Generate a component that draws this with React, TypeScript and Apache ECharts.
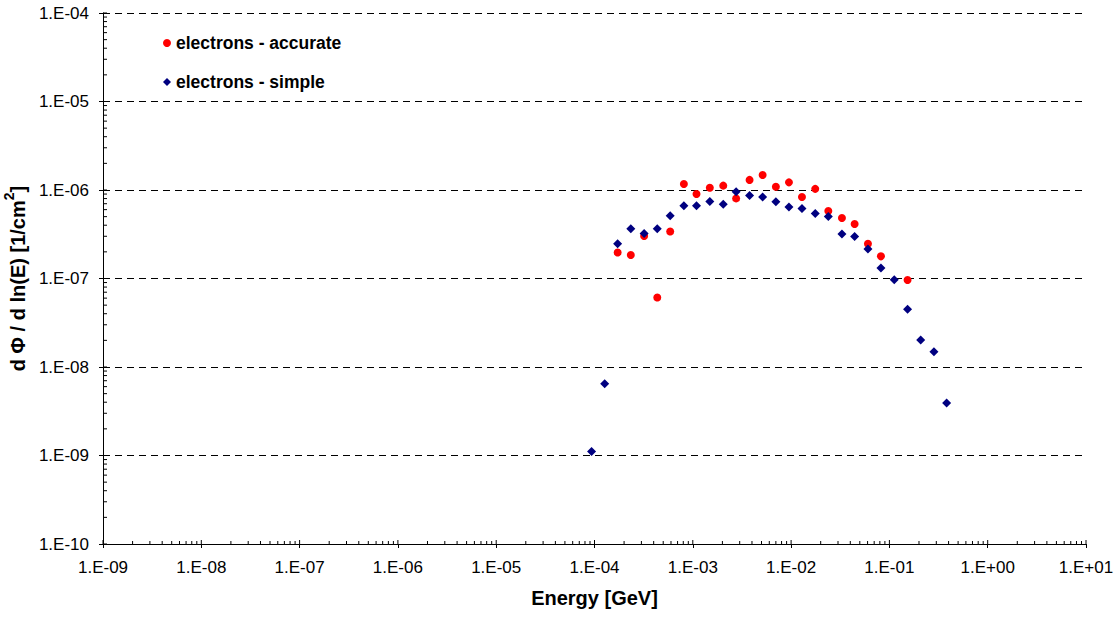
import React, { useEffect, useRef } from "react";
import * as echarts from "echarts";

// Energies [GeV] and fluxes
const simpleEnergy = [
  9.33e-5, 1.27e-4, 1.72e-4, 2.34e-4, 3.2e-4, 4.35e-4, 5.89e-4, 8.11e-4, 1.09e-3, 1.49e-3,
  2.04e-3, 2.76e-3, 3.78e-3, 5.13e-3, 7.0e-3, 9.51e-3, 1.29e-2, 1.76e-2, 2.39e-2, 3.29e-2,
  4.43e-2, 6.05e-2, 8.2e-2, 0.112, 0.153, 0.208, 0.284, 0.382,
];
const simpleFlux = [
  1.11e-9, 6.48e-9, 2.47e-7, 3.65e-7, 3.23e-7, 3.65e-7, 5.13e-7, 6.65e-7, 6.65e-7, 7.43e-7,
  6.88e-7, 9.57e-7, 8.69e-7, 8.33e-7, 7.38e-7, 6.43e-7, 6.19e-7, 5.44e-7, 5.03e-7, 3.18e-7,
  2.99e-7, 2.15e-7, 1.31e-7, 9.69e-8, 4.48e-8, 2.02e-8, 1.49e-8, 3.92e-9,
];
const accurateEnergy = [
  1.72e-4, 2.34e-4, 3.2e-4, 4.35e-4, 5.89e-4, 8.11e-4, 1.09e-3, 1.49e-3, 2.04e-3, 2.76e-3,
  3.78e-3, 5.13e-3, 7.0e-3, 9.51e-3, 1.29e-2, 1.76e-2, 2.39e-2, 3.29e-2, 4.43e-2, 6.05e-2,
  8.2e-2, 0.153,
];
const accurateFlux = [
  1.97e-7, 1.84e-7, 3.02e-7, 6.11e-8, 3.4e-7, 1.17e-6, 9.01e-7, 1.06e-6, 1.12e-6, 8.04e-7,
  1.3e-6, 1.48e-6, 1.09e-6, 1.22e-6, 8.33e-7, 1.03e-6, 5.79e-7, 4.83e-7, 4.13e-7, 2.47e-7,
  1.78e-7, 9.62e-8,
];
const seriesNames = ["electrons - accurate", "electrons - simple"];
const xExpMin = -9;
const xExpMax = 1;
const yExpMin = -10;
const yExpMax = -4;

const FONT = "'Liberation Sans', Arial, Helvetica, sans-serif";

const fmt = (v: number) => {
  const e = Math.round(v);
  return "1.E" + (e < 0 ? "-" : "+") + String(Math.abs(e)).padStart(2, "0");
};

export default function App() {
  const ref = useRef<HTMLDivElement>(null);
  useEffect(() => {
    if (!ref.current) return;
    const chart = echarts.init(ref.current, null, { renderer: "svg" });

    // tick marks inside the plot (minor at 2..9, and inner half of majors)
    const ticks: number[][] = [];
    for (let e = xExpMin; e <= xExpMax; e++) {
      ticks.push([e, yExpMin, 0, 4]);
      if (e < xExpMax) for (let k = 2; k <= 9; k++) ticks.push([e + Math.log10(k), yExpMin, 0, 3]);
    }
    for (let e = yExpMin; e <= yExpMax; e++) {
      ticks.push([xExpMin, e, 1, 4]);
      if (e < yExpMax) for (let k = 2; k <= 9; k++) ticks.push([xExpMin, e + Math.log10(k), 1, 4]);
    }

    chart.setOption({
      animation: false,
      grid: { left: 103, right: 33, top: 13, bottom: 78, containLabel: false, outerBoundsMode: "none" },
      legend: {
        data: [
          { name: seriesNames[0], icon: "circle" },
          { name: seriesNames[1], icon: "diamond" },
        ],
        orient: "vertical",
        left: 158,
        top: 29,
        itemWidth: 8,
        itemHeight: 8,
        itemGap: 21,
        textStyle: { fontFamily: FONT, fontSize: 17.5, fontWeight: "bold", color: "#000" },
      },
      xAxis: {
        type: "value",
        min: xExpMin,
        max: xExpMax,
        interval: 1,
        name: "Energy [GeV]",
        nameLocation: "middle",
        nameGap: 44,
        nameTextStyle: { fontFamily: FONT, fontSize: 20, fontWeight: "bold", color: "#000" },
        axisLine: { onZero: false, lineStyle: { color: "#000", width: 1 } },
        axisTick: { show: true, length: 4, lineStyle: { color: "#000" } },
        axisLabel: { fontFamily: FONT, fontSize: 17, color: "#000", margin: 15, formatter: fmt },
        splitLine: { show: false },
      },
      yAxis: {
        type: "value",
        min: yExpMin,
        max: yExpMax,
        interval: 1,
        name: "{a|d Φ / d ln(E) [1/cm}{s|2}{a|]}",
        nameLocation: "middle",
        nameRotate: 90,
        nameGap: 62,
        nameTextStyle: {
          fontFamily: FONT,
          fontSize: 20,
          fontWeight: "bold",
          color: "#000",
          rich: {
            a: { fontFamily: FONT, fontSize: 20, fontWeight: "bold", color: "#000", lineHeight: 26, verticalAlign: "bottom" },
            s: { fontFamily: FONT, fontSize: 14, fontWeight: "bold", color: "#000", lineHeight: 26, verticalAlign: "top" },
          },
        },
        axisLine: { show: true, onZero: false, lineStyle: { color: "#000", width: 1 } },
        axisTick: { show: true, length: 4, lineStyle: { color: "#000" } },
        axisLabel: { fontFamily: FONT, fontSize: 17, color: "#000", margin: 14, formatter: fmt },
        splitLine: { show: true, lineStyle: { color: "#000", type: [7, 5], width: 1 } },
      },
      series: [
        {
          type: "custom",
          name: "ticks",
          silent: true,
          clip: false,
          z: 1,
          data: ticks,
          renderItem: (params: any, api: any) => {
            const p = api.coord([api.value(0), api.value(1)]);
            const kind = api.value(2);
            const len = api.value(3);
            const shape =
              kind === 0
                ? { x1: p[0], y1: p[1], x2: p[0], y2: p[1] - len }
                : { x1: p[0], y1: p[1], x2: p[0] + len, y2: p[1] };
            return { type: "line", shape, style: { stroke: "#000", lineWidth: 1 } };
          },
        },
        {
          type: "scatter",
          name: seriesNames[0],
          symbol: "circle",
          symbolSize: 8,
          itemStyle: { color: "#FF0000", opacity: 1 },
          z: 3,
          data: accurateEnergy.map((e, i) => [Math.log10(e), Math.log10(accurateFlux[i])]),
        },
        {
          type: "scatter",
          name: seriesNames[1],
          symbol: "diamond",
          symbolSize: 9,
          itemStyle: { color: "#000080", opacity: 1 },
          z: 4,
          data: simpleEnergy.map((e, i) => [Math.log10(e), Math.log10(simpleFlux[i])]),
        },
      ],
    });
    return () => chart.dispose();
  }, []);
  return (
    <div
      ref={ref}
      style={{ position: "fixed", left: 0, top: 0, width: 1119, height: 622, background: "#fff" }}
    />
  );
}
